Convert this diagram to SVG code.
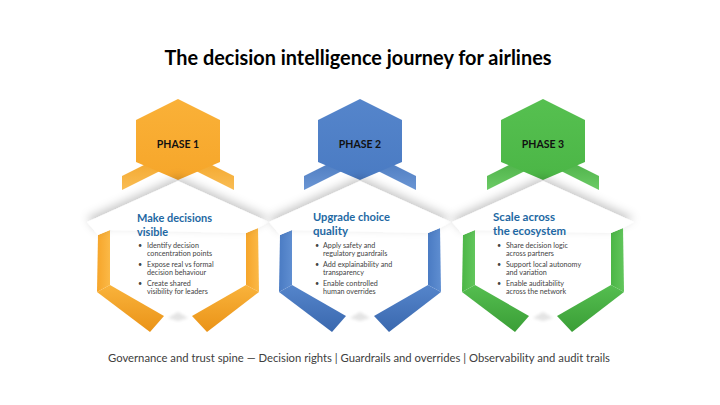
<svg xmlns="http://www.w3.org/2000/svg" width="720" height="405" viewBox="0 0 720 405">
<defs>
<style>
.title{font-family:Lato,"Liberation Sans",sans-serif;font-weight:bold;font-size:20px;fill:#000}
.ph{font-family:Lato,"Liberation Sans",sans-serif;font-weight:bold;font-size:10.5px;fill:#111;text-anchor:middle}
.hd{font-family:Lato,"Liberation Sans",sans-serif;font-weight:bold;font-size:12px;fill:#1E68A3}
.bl{font-family:Lato,"Liberation Sans",sans-serif;font-size:7.2px;fill:#444}
.ft{font-family:Lato,"Liberation Sans",sans-serif;font-size:11px;fill:#404040}
.lid{fill:#fff;filter:url(#sh)}
.notch{fill:#e4e4e4;filter:url(#bl)}
</style>
<filter id="sh" x="-30%" y="-60%" width="160%" height="220%">
<feDropShadow dx="0" dy="-4" stdDeviation="5" flood-color="#000" flood-opacity="0.22"/>
</filter>
<filter id="bl" x="-50%" y="-50%" width="200%" height="200%"><feGaussianBlur stdDeviation="1.5"/></filter>
<linearGradient id="oT" x1="0" y1="0" x2="0" y2="1"><stop offset="0" stop-color="#FAB138"/><stop offset="1" stop-color="#F6A62A"/></linearGradient>
<linearGradient id="oW" x1="0" y1="0" x2="0" y2="1"><stop offset="0" stop-color="#F19E1C"/><stop offset="1" stop-color="#F9BD55"/></linearGradient>
<linearGradient id="oS" x1="0" y1="0" x2="1" y2="0"><stop offset="0" stop-color="#F6A52A"/><stop offset="1" stop-color="#FBB947"/></linearGradient>
<linearGradient id="oL" x1="0" y1="1" x2="0" y2="0"><stop offset="0" stop-color="#EA9317"/><stop offset="1" stop-color="#F9B33C"/></linearGradient>
<linearGradient id="bT" x1="0" y1="0" x2="0" y2="1"><stop offset="0" stop-color="#5585CB"/><stop offset="1" stop-color="#4A7BC3"/></linearGradient>
<linearGradient id="bW" x1="0" y1="0" x2="0" y2="1"><stop offset="0" stop-color="#4171B8"/><stop offset="1" stop-color="#6B96D4"/></linearGradient>
<linearGradient id="bS" x1="0" y1="0" x2="1" y2="0"><stop offset="0" stop-color="#4A7BC3"/><stop offset="1" stop-color="#5F8ED1"/></linearGradient>
<linearGradient id="bL" x1="0" y1="1" x2="0" y2="0"><stop offset="0" stop-color="#3A68AE"/><stop offset="1" stop-color="#5585CB"/></linearGradient>
<linearGradient id="gT" x1="0" y1="0" x2="0" y2="1"><stop offset="0" stop-color="#56C050"/><stop offset="1" stop-color="#4BB646"/></linearGradient>
<linearGradient id="gW" x1="0" y1="0" x2="0" y2="1"><stop offset="0" stop-color="#40A63C"/><stop offset="1" stop-color="#6CCB66"/></linearGradient>
<linearGradient id="gS" x1="0" y1="0" x2="1" y2="0"><stop offset="0" stop-color="#4BB646"/><stop offset="1" stop-color="#62C65C"/></linearGradient>
<linearGradient id="gL" x1="0" y1="1" x2="0" y2="0"><stop offset="0" stop-color="#3A9E36"/><stop offset="1" stop-color="#55BE50"/></linearGradient>
</defs>
<rect width="720" height="405" fill="#fff"/>
<text class="title" x="358" y="65" text-anchor="middle" textLength="387" lengthAdjust="spacingAndGlyphs">The decision intelligence journey for airlines</text>

<g id="phase1" transform="translate(178,0)">
<polygon fill="url(#oW)" points="-56,176 0,148 0,162 -56,190"/>
<polygon fill="url(#oW)" points="56,176 0,148 0,162 56,190"/>
<polygon fill="url(#oT)" points="0,99 42,120 42,162 0,180 -42,162 -42,120"/>
<polygon fill="url(#oS)" points="-80,235 -68,230 -68,285 -81,292"/>
<polygon fill="url(#oS)" points="80,228 68,233 68,285 81,292"/>
<polygon fill="url(#oL)" points="-81,292 -68,285 -14,316 -28,332"/>
<polygon fill="url(#oL)" points="81,292 68,285 14,316 29,332"/>
<polygon class="notch" points="-10,318 0,312 10,318 0,321"/>
<polygon class="lid" points="0,181 91,222 80,228 68,233 -68,230 -80,235 -91,222"/>
<text class="ph" x="0" y="148">PHASE 1</text>
<text class="hd" x="-41" y="222" textLength="75" lengthAdjust="spacingAndGlyphs">Make decisions</text>
<text class="hd" x="-41" y="236" textLength="31" lengthAdjust="spacingAndGlyphs">visible</text>
<text class="bl" x="-40" y="248">•</text><text class="bl" x="-31" y="248">Identify decision</text>
<text class="bl" x="-31" y="256">concentration points</text>
<text class="bl" x="-40" y="267">•</text><text class="bl" x="-31" y="267">Expose real vs formal</text>
<text class="bl" x="-31" y="275">decision behaviour</text>
<text class="bl" x="-40" y="286">•</text><text class="bl" x="-31" y="286">Create shared</text>
<text class="bl" x="-31" y="294">visibility for leaders</text>
</g>

<g id="phase2" transform="translate(360,0)">
<polygon fill="url(#bW)" points="-56,176 0,148 0,162 -56,190"/>
<polygon fill="url(#bW)" points="56,176 0,148 0,162 56,190"/>
<polygon fill="url(#bT)" points="0,99 42,120 42,162 0,180 -42,162 -42,120"/>
<polygon fill="url(#bS)" points="-80,235 -68,230 -68,285 -81,292"/>
<polygon fill="url(#bS)" points="80,228 68,233 68,285 81,292"/>
<polygon fill="url(#bL)" points="-81,292 -68,285 -14,316 -28,332"/>
<polygon fill="url(#bL)" points="81,292 68,285 14,316 29,332"/>
<polygon class="notch" points="-10,318 0,312 10,318 0,321"/>
<polygon class="lid" points="0,181 91,222 80,228 68,233 -68,230 -80,235 -91,222"/>
<text class="ph" x="0" y="148">PHASE 2</text>
<text class="hd" x="-47" y="221" textLength="77" lengthAdjust="spacingAndGlyphs">Upgrade choice</text>
<text class="hd" x="-47" y="235" textLength="35" lengthAdjust="spacingAndGlyphs">quality</text>
<text class="bl" x="-45" y="248">•</text><text class="bl" x="-37" y="248">Apply safety and</text>
<text class="bl" x="-37" y="256">regulatory guardrails</text>
<text class="bl" x="-45" y="267">•</text><text class="bl" x="-37" y="267">Add explainability and</text>
<text class="bl" x="-37" y="275">transparency</text>
<text class="bl" x="-45" y="286">•</text><text class="bl" x="-37" y="286">Enable controlled</text>
<text class="bl" x="-37" y="294">human overrides</text>
</g>

<g id="phase3" transform="translate(543,0)">
<polygon fill="url(#gW)" points="-56,176 0,148 0,162 -56,190"/>
<polygon fill="url(#gW)" points="56,176 0,148 0,162 56,190"/>
<polygon fill="url(#gT)" points="0,99 42,120 42,162 0,180 -42,162 -42,120"/>
<polygon fill="url(#gS)" points="-80,235 -68,230 -68,285 -81,292"/>
<polygon fill="url(#gS)" points="80,228 68,233 68,285 81,292"/>
<polygon fill="url(#gL)" points="-81,292 -68,285 -14,316 -28,332"/>
<polygon fill="url(#gL)" points="81,292 68,285 14,316 29,332"/>
<polygon class="notch" points="-10,318 0,312 10,318 0,321"/>
<polygon class="lid" points="0,181 91,222 80,228 68,233 -68,230 -80,235 -91,222"/>
<text class="ph" x="0" y="148">PHASE 3</text>
<text class="hd" x="-50" y="221" textLength="62" lengthAdjust="spacingAndGlyphs">Scale across</text>
<text class="hd" x="-50" y="235" textLength="73" lengthAdjust="spacingAndGlyphs">the ecosystem</text>
<text class="bl" x="-46" y="248">•</text><text class="bl" x="-37" y="248">Share decision logic</text>
<text class="bl" x="-37" y="256">across partners</text>
<text class="bl" x="-46" y="267">•</text><text class="bl" x="-37" y="267">Support local autonomy</text>
<text class="bl" x="-37" y="275">and variation</text>
<text class="bl" x="-46" y="286">•</text><text class="bl" x="-37" y="286">Enable auditability</text>
<text class="bl" x="-37" y="294">across the network</text>
</g>

<g id="connectors"></g>
<text class="ft" x="359" y="362" text-anchor="middle" textLength="502" lengthAdjust="spacingAndGlyphs">Governance and trust spine — Decision rights | Guardrails and overrides | Observability and audit trails</text>
</svg>
